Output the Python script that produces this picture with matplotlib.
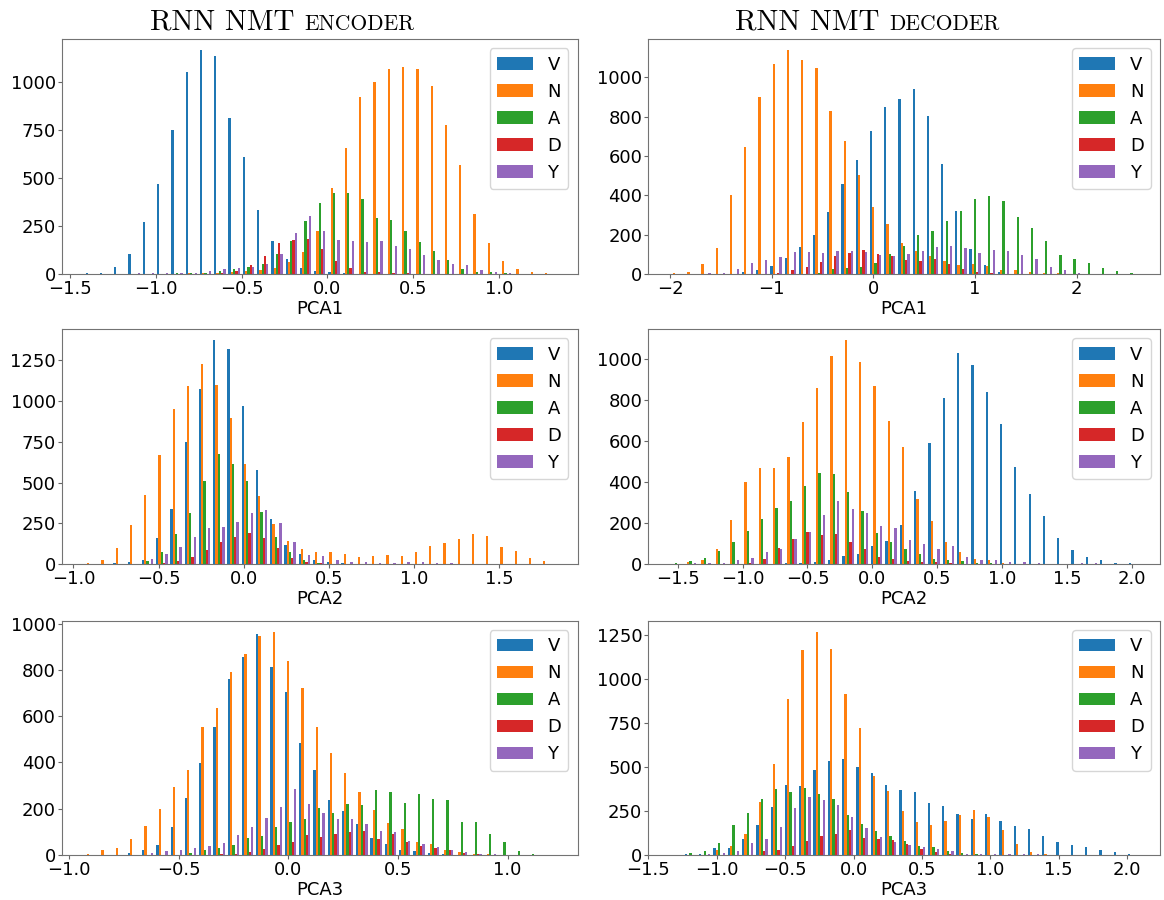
import numpy as np
import matplotlib
matplotlib.use("Agg")
import matplotlib.pyplot as plt

tags = ["V", "N", "A", "D", "Y"]

# counts per bin (33 bins per panel)
enc1_v = [3, 7, 35, 104, 269, 472, 750, 1054, 1167, 1140, 812, 613, 332, 174, 76, 33, 17, 10, 3, 2, 1, 1, 0, 0, 0, 0, 0, 1, 1, 0, 0, 0, 0]
enc1_n = [0, 0, 0, 0, 0, 0, 0, 3, 5, 5, 10, 16, 19, 31, 61, 115, 224, 451, 660, 922, 1002, 1069, 1082, 1069, 983, 779, 568, 314, 160, 69, 24, 10, 5]
enc1_a = [0, 0, 0, 0, 0, 2, 3, 5, 5, 14, 24, 38, 54, 102, 170, 276, 370, 424, 424, 389, 290, 281, 227, 167, 120, 71, 28, 10, 9, 3, 1, 0, 0]
enc1_d = [0, 0, 0, 0, 0, 0, 0, 1, 2, 7, 16, 47, 94, 163, 177, 182, 132, 68, 30, 10, 10, 5, 3, 2, 1, 0, 0, 0, 0, 0, 0, 0, 0]
enc1_y = [0, 2, 1, 3, 3, 4, 5, 7, 15, 24, 31, 36, 50, 104, 214, 302, 224, 177, 172, 167, 170, 146, 128, 99, 73, 50, 47, 19, 10, 3, 2, 1, 0]

dec1_v = [0, 0, 0, 0, 0, 8, 19, 41, 81, 137, 200, 313, 460, 582, 726, 851, 892, 942, 805, 557, 323, 127, 44, 8, 2, 0, 0, 0, 0, 0, 0, 0, 0]
dec1_n = [3, 12, 52, 134, 403, 648, 902, 1066, 1137, 1090, 1049, 827, 675, 503, 343, 252, 156, 118, 91, 64, 44, 49, 39, 19, 20, 8, 3, 3, 1, 2, 0, 0, 0]
dec1_a = [0, 0, 0, 1, 1, 2, 1, 1, 1, 2, 3, 27, 30, 37, 58, 100, 140, 196, 218, 269, 320, 381, 396, 372, 291, 232, 168, 95, 78, 56, 29, 14, 5]
dec1_d = [0, 0, 0, 0, 0, 0, 2, 3, 19, 34, 59, 93, 107, 122, 102, 90, 71, 68, 74, 49, 27, 10, 3, 1, 0, 0, 0, 0, 0, 0, 0, 0, 0]
dec1_y = [0, 2, 3, 7, 25, 56, 69, 85, 112, 110, 107, 118, 115, 112, 96, 90, 100, 118, 135, 142, 130, 105, 122, 115, 96, 74, 37, 19, 5, 2, 1, 0, 0]

enc2_v = [1, 1, 4, 12, 27, 159, 337, 747, 1072, 1372, 1321, 968, 574, 276, 114, 61, 27, 10, 4, 2, 1, 1, 0, 0, 0, 0, 0, 0, 0, 0, 0, 0, 0]
enc2_n = [6, 25, 98, 239, 423, 668, 952, 1090, 1227, 1099, 894, 613, 415, 245, 143, 94, 71, 71, 61, 45, 51, 57, 51, 71, 110, 129, 151, 182, 174, 106, 80, 37, 16]
enc2_a = [0, 0, 1, 2, 18, 74, 182, 312, 508, 676, 613, 508, 321, 163, 76, 22, 4, 2, 2, 0, 0, 0, 0, 0, 0, 0, 0, 0, 0, 0, 0, 0, 0]
enc2_d = [0, 0, 0, 0, 0, 6, 18, 43, 86, 133, 165, 192, 161, 98, 35, 14, 4, 2, 0, 0, 0, 0, 0, 0, 0, 0, 0, 0, 0, 0, 0, 0, 0]
enc2_y = [0, 0, 2, 3, 31, 61, 102, 165, 218, 227, 259, 310, 331, 253, 135, 55, 51, 22, 12, 12, 4, 4, 12, 12, 4, 4, 2, 1, 3, 0, 0, 0, 0]

dec2_v = [0, 0, 0, 0, 0, 0, 0, 1, 5, 3, 10, 21, 41, 47, 89, 112, 192, 359, 590, 810, 1034, 971, 839, 683, 473, 340, 237, 127, 68, 36, 20, 3, 3]
dec2_n = [2, 8, 20, 75, 215, 400, 467, 467, 522, 693, 862, 1015, 1093, 990, 868, 701, 571, 317, 210, 107, 57, 23, 18, 3, 2, 2, 0, 0, 0, 0, 0, 0, 0]
dec2_a = [5, 13, 28, 63, 107, 163, 220, 275, 307, 379, 446, 439, 353, 260, 150, 107, 75, 47, 24, 18, 13, 5, 3, 0, 0, 0, 0, 0, 0, 0, 0, 0, 0]
dec2_d = [0, 0, 0, 1, 1, 7, 24, 78, 124, 156, 141, 145, 106, 73, 34, 24, 15, 10, 10, 3, 2, 0, 0, 0, 0, 0, 0, 0, 0, 0, 0, 0, 0]
dec2_y = [0, 5, 3, 3, 20, 31, 57, 75, 120, 156, 239, 309, 270, 247, 184, 174, 117, 99, 72, 88, 34, 18, 18, 10, 10, 3, 2, 2, 3, 5, 0, 0, 0]

enc3_v = [0, 0, 1, 9, 22, 43, 120, 245, 396, 554, 762, 857, 955, 812, 704, 484, 367, 239, 190, 134, 75, 48, 23, 16, 9, 3, 1, 0, 0, 0, 0, 0, 1]
enc3_n = [4, 20, 30, 68, 127, 199, 294, 369, 552, 634, 791, 868, 945, 963, 838, 720, 554, 442, 354, 271, 196, 138, 112, 55, 48, 22, 14, 3, 3, 2, 0, 0, 0]
enc3_a = [0, 0, 0, 0, 0, 2, 2, 10, 22, 32, 45, 75, 82, 120, 143, 154, 204, 180, 220, 215, 279, 272, 225, 262, 242, 236, 141, 143, 92, 55, 17, 4, 2]
enc3_d = [0, 0, 0, 0, 0, 0, 0, 0, 1, 5, 3, 14, 26, 43, 58, 88, 79, 92, 98, 105, 71, 89, 58, 40, 29, 22, 10, 3, 0, 0, 0, 0, 0]
enc3_y = [0, 0, 2, 2, 10, 17, 22, 32, 37, 50, 86, 122, 160, 209, 287, 220, 183, 154, 154, 134, 105, 99, 60, 48, 35, 22, 14, 4, 3, 2, 0, 0, 0]

dec3_v = [6, 6, 38, 41, 90, 170, 271, 400, 390, 481, 537, 547, 501, 469, 396, 371, 356, 296, 279, 234, 205, 234, 192, 166, 147, 107, 74, 55, 43, 26, 17, 6, 0]
dec3_n = [0, 2, 28, 53, 121, 303, 515, 888, 1165, 1267, 1169, 914, 722, 449, 362, 249, 187, 168, 194, 226, 254, 215, 141, 60, 17, 3, 0, 0, 0, 0, 0, 0, 0]
dec3_a = [13, 23, 68, 170, 241, 320, 377, 358, 381, 345, 317, 226, 177, 139, 106, 79, 53, 45, 23, 11, 3, 1, 0, 0, 0, 0, 2, 2, 0, 0, 0, 0, 0]
dec3_d = [0, 0, 0, 0, 2, 23, 30, 51, 77, 107, 121, 141, 94, 90, 83, 60, 32, 17, 8, 2, 0, 0, 0, 0, 0, 0, 0, 0, 0, 0, 0, 0, 0]
dec3_y = [0, 3, 9, 23, 66, 89, 160, 268, 328, 315, 283, 217, 155, 102, 75, 57, 45, 34, 21, 5, 8, 7, 3, 3, 3, 0, 0, 0, 0, 0, 0, 0, 0]

# first bin edge and bin width of each panel
bin_start = [-1.416, -2.008, -0.941, -1.565, -0.934, -1.244]
bin_width = [0.0831, 0.1399, 0.0837, 0.1102, 0.0651, 0.1045]

panels = [
    [enc1_v, enc1_n, enc1_a, enc1_d, enc1_y],
    [dec1_v, dec1_n, dec1_a, dec1_d, dec1_y],
    [enc2_v, enc2_n, enc2_a, enc2_d, enc2_y],
    [dec2_v, dec2_n, dec2_a, dec2_d, dec2_y],
    [enc3_v, enc3_n, enc3_a, enc3_d, enc3_y],
    [dec3_v, dec3_n, dec3_a, dec3_d, dec3_y],
]
xlabels = ["PCA1", "PCA1", "PCA2", "PCA2", "PCA3", "PCA3"]
xlims = [(-1.545, 1.455), (-2.215, 2.819), (-1.067, 1.961),
         (-1.725, 2.213), (-1.032, 1.319), (-1.50, 2.24)]

fig = plt.figure(figsize=(11.64, 9), dpi=100)

W, H = 1164.0, 900.0
col_x = [(62, 577.5), (648.3, 1160)]
row_y = [(39.3, 274), (329.3, 564), (621, 855)]

for i, counts in enumerate(panels):
    r, c = divmod(i, 2)
    x0, x1 = col_x[c]
    y0, y1 = row_y[r]
    ax = fig.add_axes([x0 / W, 1 - y1 / H, (x1 - x0) / W, (y1 - y0) / H])
    n = len(counts[0])
    edges = bin_start[i] + bin_width[i] * np.arange(n + 1)
    centers = (edges[:-1] + edges[1:]) / 2
    ax.hist([centers] * 5, bins=edges, weights=counts, label=tags)
    ax.set_xlim(*xlims[i])
    ax.set_xlabel(xlabels[i], fontsize=13, labelpad=1.5)
    ax.tick_params(labelsize=13, length=2.6, pad=1.8, color="0.4")
    for s in ax.spines.values():
        s.set_edgecolor("0.45")
    ax.legend(loc="upper right", fontsize=13)

# titles: fake small caps in Computer Modern
for x_px, word in [(150, "ENCODER"), (735, "DECODER")]:
    t = fig.text(x_px / W, 1 - 30 / H, "RNN NMT ", fontsize=21,
                 family="cmr10", va="baseline", ha="left")
    fig.canvas.draw()
    bb = t.get_window_extent()
    fig.text(bb.x1 / W, 1 - 30 / H, word, fontsize=15.5,
             family="cmr10", va="baseline", ha="left")

fig.savefig("out.png", dpi=100)
